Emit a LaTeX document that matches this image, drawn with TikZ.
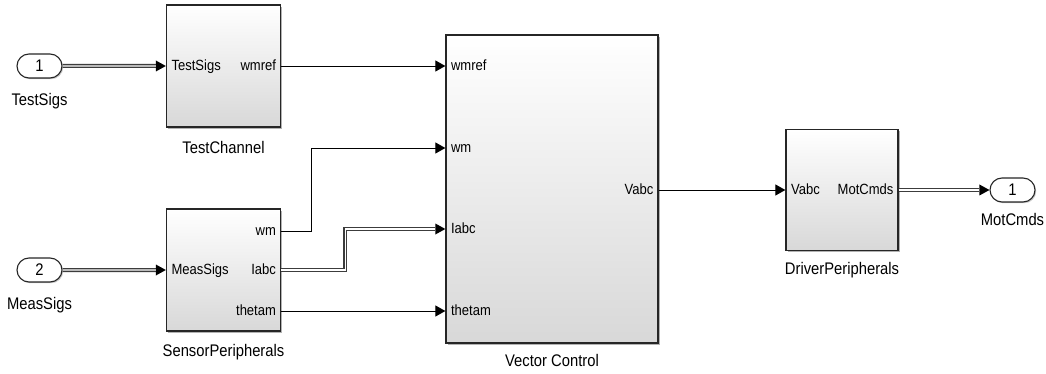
\documentclass[tikz,border=0pt]{standalone}
\usepackage{fontspec}
\setmainfont{Liberation Sans}[FakeStretch=0.88]
\usepackage{tikz}
\usetikzlibrary{positioning,arrows.meta,calc,shadows,shapes.misc}
\definecolor{edge}{HTML}{262626}
\definecolor{shade}{HTML}{D8D8D8}
\definecolor{buswire}{HTML}{3C3C3C}
\newcommand{\portsize}{\fontsize{14.8}{17}\selectfont}
\newcommand{\namesize}{\fontsize{16.8}{19}\selectfont}

\begin{document}
\begin{tikzpicture}[x=1pt, y=-1pt,
    block/.style={draw=edge, line width=1.3pt, top color=white, bottom color=shade,
      minimum width=114pt, minimum height=122pt, inner sep=0pt,
      drop shadow={shadow xshift=1.6pt, shadow yshift=-1.6pt, fill=black!60}},
    io/.style={rounded rectangle, draw=edge, line width=1.1pt, fill=white,
      minimum width=45pt, minimum height=24pt, inner sep=0pt, font=\namesize,
      drop shadow={shadow xshift=1.2pt, shadow yshift=-1.2pt, fill=black!45}},
    portlbl/.style={font=\portsize, inner sep=0pt, yshift=-1.5pt},
    blockname/.style={font=\namesize, inner sep=0pt},
    sig/.style={draw=black, line width=.9pt, -{Triangle[length=10pt,width=11pt]}},
    bus/.style={draw=buswire, line width=4pt,
      -{Triangle[length=10pt,width=11pt,line width=0pt,color=black]},
      postaction={draw=white, line width=1.3pt, -, shorten >=10pt}}]
  \useasboundingbox (0,0) rectangle (1046,374);

  % blocks
  \node[block] (tc) at (223.5,66) {};
  \node[block] (sp) at (223.5,270) {};
  \node[block, minimum width=212pt, minimum height=308pt] (vc) at (552,189) {};
  \node[block, minimum width=112pt, minimum height=121pt] (dp) at (842,190) {};

  \node[blockname, below=13pt of tc] (tc-name) {TestChannel};
  \node[blockname, below=12pt of sp] (sp-name) {SensorPeripherals};
  \node[blockname, below=10pt of vc] (vc-name) {Vector Control};
  \node[blockname, below=11pt of dp] (dp-name) {DriverPeripherals};

  % inports / outport
  \node[io] (in1) at (39.5,66) {1};
  \node[io] (in2) at (39.5,270) {2};
  \node[io] (out1) at (1012.5,190) {1};
  \node[blockname, below=15pt of in1] (in1-name) {TestSigs};
  \node[blockname, below=15pt of in2] (in2-name) {MeasSigs};
  \node[blockname, below=11pt of out1] (out1-name) {MotCmds};

  % port positions
  \coordinate (sp-wm) at ($(sp.east)+(0,-39)$);
  \coordinate (sp-thetam) at ($(sp.east)+(0,41)$);
  \coordinate (vc-wmref) at (vc.west |- tc.east);
  \coordinate (vc-wm) at ($(vc.west)+(0,-41)$);
  \coordinate (vc-iabc) at ($(vc.west)+(0,40)$);
  \coordinate (vc-thetam) at (vc.west |- sp-thetam);
  \coordinate (vc-vabc) at (vc.east |- dp.west);

  % port labels
  \node[portlbl, anchor=mid west, xshift=5.5pt] (tc-in) at (tc.west) {TestSigs};
  \node[portlbl, anchor=mid east, xshift=-5pt] (tc-out) at (tc.east) {wmref};
  \node[portlbl, anchor=mid west, xshift=5.5pt] (sp-in) at (sp.west) {MeasSigs};
  \node[portlbl, anchor=mid east, xshift=-5pt] (sp-out1) at (sp-wm) {wm};
  \node[portlbl, anchor=mid east, xshift=-5pt] (sp-out2) at (sp.east) {Iabc};
  \node[portlbl, anchor=mid east, xshift=-5pt] (sp-out3) at (sp-thetam) {thetam};
  \node[portlbl, anchor=mid west, xshift=5.5pt] (vc-in1) at (vc-wmref) {wmref};
  \node[portlbl, anchor=mid west, xshift=5.5pt] (vc-in2) at (vc-wm) {wm};
  \node[portlbl, anchor=mid west, xshift=5.5pt] (vc-in3) at (vc-iabc) {Iabc};
  \node[portlbl, anchor=mid west, xshift=5.5pt] (vc-in4) at (vc-thetam) {thetam};
  \node[portlbl, anchor=mid east, xshift=-5pt] (vc-out) at (vc-vabc) {Vabc};
  \node[portlbl, anchor=mid west, xshift=5.5pt] (dp-in) at (dp.west) {Vabc};
  \node[portlbl, anchor=mid east, xshift=-5pt] (dp-out) at (dp.east) {MotCmds};

  % lines
  \draw[bus] (in1) -- (tc);
  \draw[bus] (in2) -- (sp);
  \draw[sig] (tc.east) -- (vc-wmref);
  \draw[sig] (sp-wm) -- ++(30,0) |- (vc-wm);
  \draw[bus] (sp.east) -- ++(64,0) |- (vc-iabc);
  \draw[sig] (sp-thetam) -- (vc-thetam);
  \draw[sig] (vc-vabc) -- (dp);
  \draw[bus] (dp) -- (out1);
\end{tikzpicture}
\end{document}
